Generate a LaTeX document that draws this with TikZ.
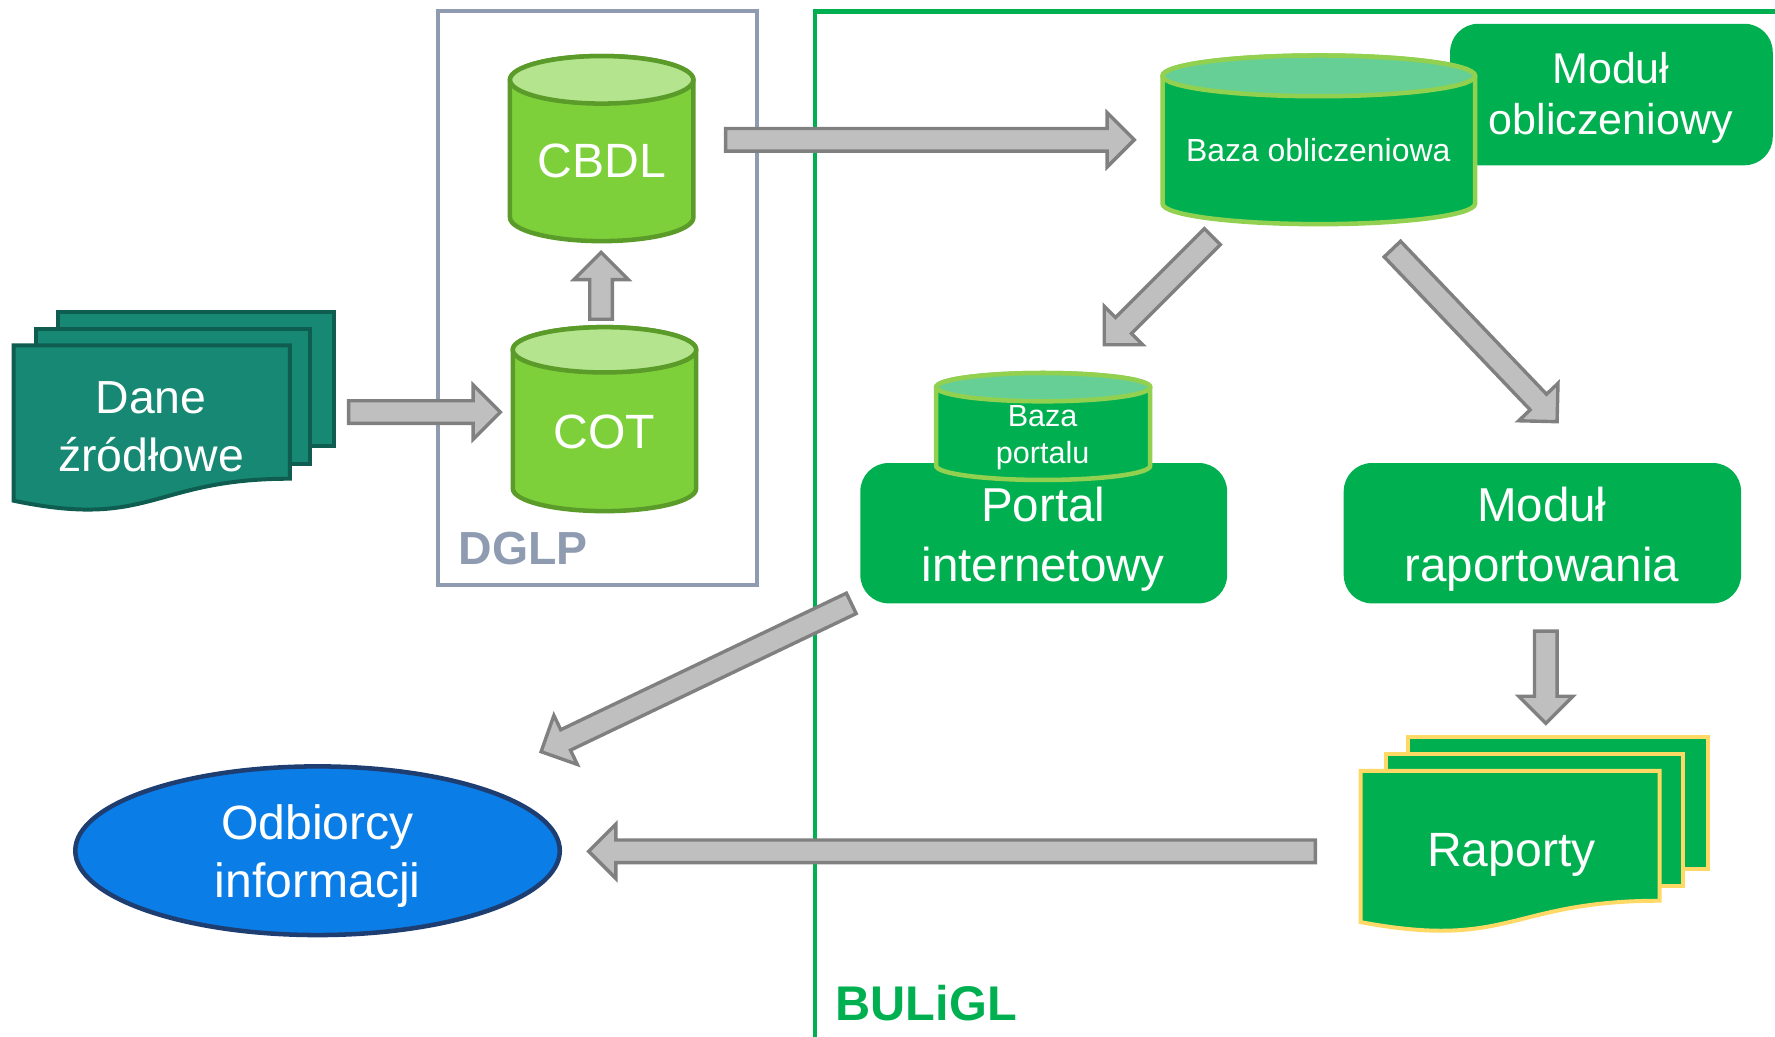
\documentclass[tikz,border=0pt]{standalone}
\usepackage{fontspec}
\setmainfont{Liberation Sans}
\usetikzlibrary{calc,shapes.geometric}
\definecolor{arrfill}{HTML}{BFBFBF}
\definecolor{arrline}{HTML}{808080}
\definecolor{offgreen}{HTML}{00B050}
\definecolor{dglpcol}{HTML}{8E9BB1}
\definecolor{lgbody}{HTML}{7ED03B}
\definecolor{lgtop}{HTML}{B4E48E}
\definecolor{lgline}{HTML}{5B9B2A}
\definecolor{cyltop}{HTML}{66CF96}
\definecolor{cylline}{HTML}{92D050}
\definecolor{tealfill}{HTML}{168873}
\definecolor{tealline}{HTML}{0E5D50}
\definecolor{repline}{HTML}{FFD966}
\definecolor{odbfill}{HTML}{0A7DE6}
\definecolor{odbline}{HTML}{1E3E72}
\newcommand\blkarrow[2]{%
  \coordinate (bahead) at ($(#2)!24pt!(#1)$);
  \filldraw[arrowsty] ($(#1)!10pt!90:(#2)$) -- ($(bahead)!10pt!90:(#2)$) -- ($(bahead)!24pt!90:(#2)$) -- (#2) -- ($(bahead)!24pt!-90:(#2)$) -- ($(bahead)!10pt!-90:(#2)$) -- ($(#1)!10pt!-90:(#2)$) -- cycle;}
\newcommand\dbcyl[7]{%
  \filldraw[#1] ({#3-#4},#5) -- ({#3-#4},#6) arc[start angle=180,end angle=360,x radius=#4pt,y radius=#7pt] -- ({#3+#4},#5) arc[start angle=0,end angle=180,x radius=#4pt,y radius=#7pt] -- cycle;
  \filldraw[#2] (#3,#5) ellipse[x radius=#4pt,y radius=#7pt];}
\newcommand\docpage[5]{\filldraw[#1] (#2,#4) rectangle (#3,#5);}
\newcommand\docfront[5]{%
  \filldraw[#1] (#2,#4) -- (#3,#4) -- (#3,{#4+0.802*#5}) .. controls ({(#2+#3)/2},{#4+0.802*#5}) and ({(#2+#3)/2},{#4+1.1075*#5}) .. (#2,{#4+0.934*#5}) -- cycle;}
\begin{document}
\begin{tikzpicture}[x=1pt,y=-1pt,line join=miter,
  arrowsty/.style={fill=arrfill,draw=arrline,line width=3pt},
  greenbox/.style={fill=offgreen,draw=none,rounded corners=25pt,inner sep=0pt},
  wtxt/.style={text=white,align=center,inner sep=0pt},
  lgcylbody/.style={fill=lgbody,draw=lgline,line width=4pt},
  lgcyltop/.style={fill=lgtop,draw=lgline,line width=4pt},
  gcylbody/.style={fill=offgreen,draw=cylline,line width=4pt},
  gcyltop/.style={fill=cyltop,draw=cylline,line width=4pt},
  tealdoc/.style={fill=tealfill,draw=tealline,line width=3.5pt},
  repdoc/.style={fill=offgreen,draw=repline,line width=3.5pt}]
\useasboundingbox (0,0) rectangle (1568,916);
% frames
\draw[dglpcol,line width=3.5pt] (387,10) rectangle (668.5,517);
\node[anchor=base west,text=dglpcol,font=\bfseries\fontsize{41}{48}\selectfont,inner sep=0pt] (dglp) at (405,498.5) {DGLP};
\draw[offgreen,line width=4pt] (720,916) -- (720,10) -- (1568,10);
\node[anchor=base west,text=offgreen,font=\bfseries\fontsize{43}{50}\selectfont,inner sep=0pt] (buligl) at (738,901.5) {BULiGL};
% Dane zrodlowe
\docpage{tealdoc}{51}{295}{276}{394}
\docpage{tealdoc}{32}{274}{291}{410}
\docfront{tealdoc}{12}{256}{305}{147}
\node[wtxt,font=\fontsize{41}{51}\selectfont] (dane) at (133.5,377) {Dane\\źródłowe};
% CBDL, COT
\dbcyl{lgcylbody}{lgcyltop}{531.5}{81}{70.5}{192}{21}
\node[wtxt,anchor=base,font=\fontsize{42.5}{50}\selectfont] (cbdl) at (531.5,156.7) {CBDL};
\dbcyl{lgcylbody}{lgcyltop}{534}{81}{309}{431.5}{20}
\node[wtxt,anchor=base,font=\fontsize{42.5}{50}\selectfont] (cot) at (534,396) {COT};
% Modul obliczeniowy + Baza obliczeniowa
\node[greenbox,minimum width=285pt,minimum height=125pt] (modobl) at (1423.5,83.5) {};
\node[wtxt,font=\fontsize{38}{45}\selectfont] (modobltxt) at (1423,86.5) {Moduł\\obliczeniowy};
\dbcyl{gcylbody}{gcyltop}{1165}{138}{67}{180}{18}
\node[wtxt,anchor=base,font=\fontsize{28.2}{33}\selectfont] (bazaobl) at (1164.5,142.4) {Baza obliczeniowa};
% Portal internetowy + Baza portalu
\node[greenbox,minimum width=324pt,minimum height=124pt] (portal) at (922,471) {};
\node[wtxt,font=\fontsize{42}{53}\selectfont] (portaltxt) at (921.5,476) {Portal\\internetowy};
\dbcyl{gcylbody}{gcyltop}{921.5}{94.5}{342}{411.5}{12.5}
\node[wtxt,font=\fontsize{27}{33}\selectfont] (bazaport) at (921,386.8) {Baza\\portalu};
% Modul raportowania
\node[greenbox,minimum width=351pt,minimum height=124pt] (modrap) at (1362.5,471) {};
\node[wtxt,font=\fontsize{42}{53}\selectfont] (modraptxt) at (1362,476) {Moduł\\raportowania};
% Raporty
\docpage{repdoc}{1244}{1509}{651}{768}
\docpage{repdoc}{1224}{1487}{666}{783}
\docfront{repdoc}{1202}{1466}{681}{143}
\node[wtxt,anchor=base,font=\fontsize{42.5}{50}\selectfont] (raporty) at (1335,765.4) {Raporty};
% Odbiorcy
\node[ellipse,fill=odbfill,draw=odbline,line width=4pt,minimum width=428pt,minimum height=149pt,inner sep=0pt] (odb) at (280.5,751.5) {};
\node[wtxt,font=\fontsize{42.5}{51.5}\selectfont] (odbtxt) at (280.5,756.5) {Odbiorcy\\informacji};
% arrows
\coordinate (a1s) at (308,364);      \coordinate (a1e) at (442,364);
\coordinate (a2s) at (531,282);      \coordinate (a2e) at (531,223);
\coordinate (a3s) at (641,123.5);    \coordinate (a3e) at (1002,123.5);
\coordinate (a4s) at (1071,209);     \coordinate (a4e) at (975.5,304.5);
\coordinate (a5s) at (1230,220);     \coordinate (a5e) at (1375.5,372.5);
\coordinate (a6s) at (752,533);      \coordinate (a6e) at (478,664);
\coordinate (a7s) at (1365.5,557.5); \coordinate (a7e) at (1365.5,639);
\coordinate (a8s) at (1162,752);     \coordinate (a8e) at (520,752);
\blkarrow{a1s}{a1e}
\blkarrow{a2s}{a2e}
\blkarrow{a3s}{a3e}
\blkarrow{a4s}{a4e}
\blkarrow{a5s}{a5e}
\blkarrow{a6s}{a6e}
\blkarrow{a7s}{a7e}
\blkarrow{a8s}{a8e}
\end{tikzpicture}
\end{document}
